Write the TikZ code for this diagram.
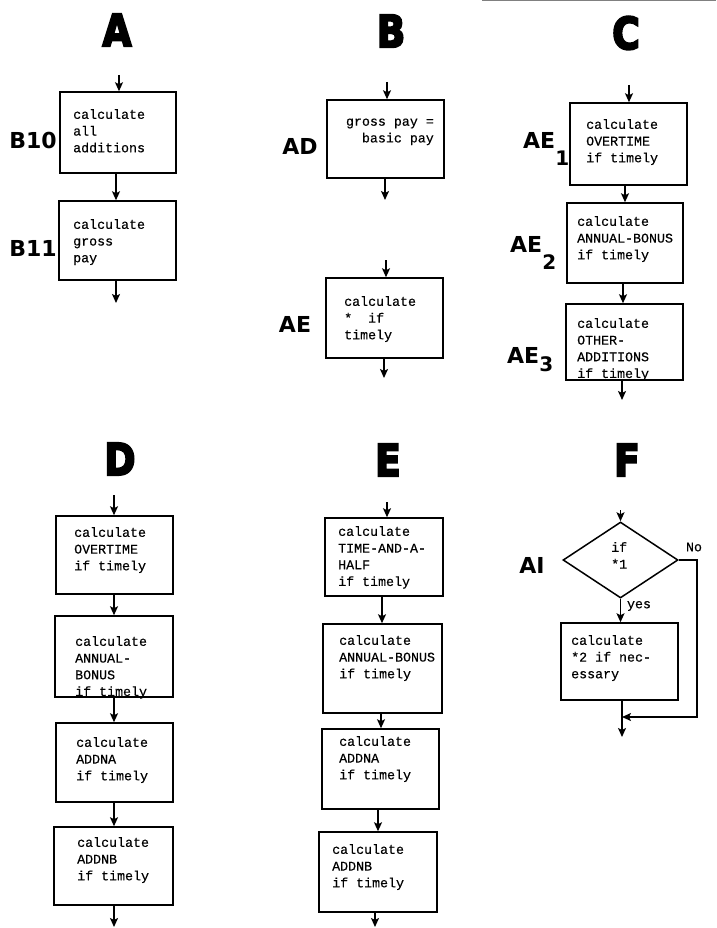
\documentclass[tikz,border=0pt]{standalone}
\usepackage{fontspec}
\usetikzlibrary{shapes.geometric,arrows.meta,calc}
\newfontfamily\typew{Liberation Mono}[FakeBold=0.4]
\newfontfamily\heavy{DejaVu Sans}
\newfontfamily\ttlf{DejaVu Sans}[FakeBold=5]
\tikzset{
  box/.style={draw, line width=1.5pt, inner sep=0pt, rectangle},
  dia/.style={draw, line width=1.5pt, inner sep=0pt, diamond, minimum width=115pt, minimum height=76pt},
  txt/.style={font=\typew\fontsize{13.3}{16.7}\selectfont, align=left, inner sep=0pt, anchor=north west},
  plain/.style={font=\typew\fontsize{13.3}{16.7}\selectfont, inner sep=0pt},
  arr/.style={line width=1.5pt, -{Stealth[length=9pt,width=8pt,inset=2pt]}},
  conn/.style={line width=1.5pt},
  ttl/.style={font=\ttlf\bfseries\fontsize{44}{44}\selectfont, inner sep=0pt},
  lbl/.style={font=\heavy\bfseries\fontsize{22}{22}\selectfont, inner sep=0pt},
}
\newcommand{\pbox}[5]{\node[box, minimum width={#4-#2}, minimum height={#5-#3}] (#1) at ({(#2+#4)/2},{(#3+#5)/2}) {};}
\newcommand{\st}{\rule{0pt}{9pt}}
\begin{document}
\begin{tikzpicture}[x=1pt,y=-1pt]
\useasboundingbox (0,0) rectangle (716,928);
\draw[gray, line width=1.2pt] (482,0.8) -- (716,0.8);
% ---------------- A
\node[ttl] (tA) at (117,30) {\scalebox{.85}[1]{A}};
\pbox{b10}{60}{92}{176}{173}
\pbox{b11}{59}{201}{176}{280}
\node[txt] (b10t) at (73,109) {\st calculate\\all\\additions};
\node[txt] (b11t) at (73,219) {\st calculate\\gross\\pay};
\node[lbl] (b10l) at (33,140) {B10};
\node[lbl] (b11l) at (33,248) {B11};
\coordinate (ain) at (119,75);
\coordinate (ax) at (116,0);
\coordinate (aout) at (116,303);
\draw[arr] (ain) -- (b10.north -| ain);
\draw[arr] (b10.south -| ax) -- (b11.north -| ax);
\draw[arr] (b11.south -| aout) -- (aout);
% ---------------- B
\node[ttl] (tB) at (391,31) {\scalebox{.85}[1]{B}};
\pbox{ad}{327}{100}{444}{178}
\node[txt, align=right, anchor=north east] (adt) at (434,116.5) {\st gross pay =\\basic pay};
\node[lbl] (adl) at (300,146) {AD};
\coordinate (bin1) at (387,82);
\coordinate (bout1) at (385,200);
\draw[arr] (bin1) -- (ad.north -| bin1);
\draw[arr] (ad.south -| bout1) -- (bout1);
\pbox{ae}{326}{278}{443}{358}
\node[txt] (aet) at (344,296) {\st calculate\\*\ \ if\\timely};
\node[lbl] (ael) at (295,324) {AE};
\coordinate (bin2) at (386,260);
\coordinate (bout2) at (384,378);
\draw[arr] (bin2) -- (ae.north -| bin2);
\draw[arr] (ae.south -| bout2) -- (bout2);
% ---------------- C
\node[ttl] (tC) at (626,33) {\scalebox{.85}[1]{C}};
\pbox{aea}{570}{103}{687}{185}
\pbox{aeb}{567}{203}{683}{283}
\pbox{aec}{566}{304}{683}{380}
\node[txt] (aeat) at (586,119) {\st calculate\\OVERTIME\\if timely};
\node[txt] (aebt) at (577,216) {\st calculate\\ANNUAL-BONUS\\if timely};
\node[txt] (aect) at (577,318) {\st calculate\\OTHER-\\ADDITIONS\\if timely};
\node[lbl, anchor=base west] (aeal) at (523,149) {AE\raisebox{-17pt}{\fontsize{20}{20}\selectfont 1}};
\node[lbl, anchor=base west] (aebl) at (510,252) {AE\raisebox{-17pt}{\fontsize{20}{20}\selectfont 2}};
\node[lbl, anchor=base west] (aecl) at (507,363) {AE\raisebox{-8pt}{\fontsize{20}{20}\selectfont 3}};
\coordinate (cin) at (629,85);
\coordinate (cx1) at (625,0);
\coordinate (cx2) at (623,0);
\coordinate (cout) at (622,400);
\draw[arr] (cin) -- (aea.north -| cin);
\draw[arr] (aea.south -| cx1) -- (aeb.north -| cx1);
\draw[arr] (aeb.south -| cx2) -- (aec.north -| cx2);
\draw[arr] (aec.south -| cout) -- (cout);
% ---------------- D
\node[ttl] (tD) at (120,459) {\scalebox{.85}[1]{D}};
\pbox{d1}{56}{516}{173}{594}
\pbox{d2}{55}{616}{173}{697}
\pbox{d3}{56}{723}{173}{802}
\pbox{d4}{54}{827}{173}{905}
\node[txt] (d1t) at (74,527) {\st calculate\\OVERTIME\\if timely};
\node[txt] (d2t) at (75,636) {\st calculate\\ANNUAL-\\BONUS\\if timely};
\node[txt] (d3t) at (76,737) {\st calculate\\ADDNA\\if timely};
\node[txt] (d4t) at (77,837) {\st calculate\\ADDNB\\if timely};
\coordinate (din) at (114,495);
\coordinate (dout) at (114,927);
\draw[arr] (din) -- (d1.north -| din);
\draw[arr] (d1.south -| din) -- (d2.north -| din);
\draw[arr] (d2.south -| din) -- (d3.north -| din);
\draw[arr] (d3.south -| din) -- (d4.north -| din);
\draw[arr] (d4.south -| dout) -- (dout);
% ---------------- E
\node[ttl] (tE) at (388,460) {\scalebox{.85}[1]{E}};
\pbox{e1}{325}{518}{443}{596}
\pbox{e2}{323}{624}{442}{713}
\pbox{e3}{322}{729}{439}{809}
\pbox{e4}{319}{832}{437}{912}
\node[txt] (e1t) at (338,526) {\st calculate\\TIME-AND-A-\\HALF\\if timely};
\node[txt] (e2t) at (339,635) {\st calculate\\ANNUAL-BONUS\\if timely};
\node[txt] (e3t) at (339,736) {\st calculate\\ADDNA\\if timely};
\node[txt] (e4t) at (332,844) {\st calculate\\ADDNB\\if timely};
\coordinate (ein) at (387,502);
\coordinate (ex1) at (382,0);
\coordinate (ex2) at (381,0);
\coordinate (ex3) at (378,0);
\coordinate (eout) at (375,927);
\draw[arr] (ein) -- (e1.north -| ein);
\draw[arr] (e1.south -| ex1) -- (e2.north -| ex1);
\draw[arr] (e2.south -| ex2) -- (e3.north -| ex2);
\draw[arr] (e3.south -| ex3) -- (e4.north -| ex3);
\draw[arr] (e4.south -| eout) -- (eout);
% ---------------- F
\node[ttl] (tF) at (627,460) {\scalebox{.85}[1]{F}};
\node[dia] (ai) at (620.5,560) {};
\node[txt] (ait) at (611,542) {\st if\\*1};
\node[lbl] (ail) at (532,565) {AI};
\node[plain] (no) at (694,547) {No};
\node[plain] (yes) at (639,606) {yes};
\pbox{fb}{561}{623}{678}{700}
\node[txt] (fbt) at (571,635) {\st calculate\\*2 if nec-\\essary};
\coordinate (fin) at (620.5,510);
\coordinate (nx) at (697,0);
\coordinate (mj) at (622,717);
\coordinate (fout) at (622,737);
\draw[arr] (fin) -- (ai.north);
\draw[arr] (ai.south) -- (fb.north -| ai.south);
\draw[arr] (ai.east) -- (ai.east -| nx) |- (mj);
\draw[conn] (fb.south -| mj) -- (mj);
\draw[arr] (mj) -- (fout);
\end{tikzpicture}
\end{document}
